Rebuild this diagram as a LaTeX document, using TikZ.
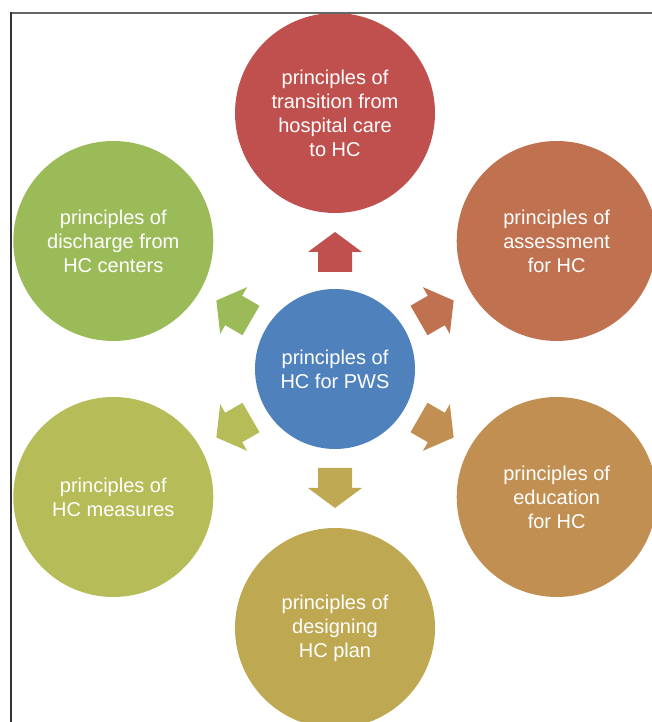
\documentclass[tikz,border=0pt]{standalone}
\usepackage{fontspec}
\setmainfont{Liberation Sans}
\usetikzlibrary{calc}
\definecolor{hubblue}{HTML}{4F81BD}
\definecolor{cA}{HTML}{C0504D}
\definecolor{cB}{HTML}{C0714F}
\definecolor{cC}{HTML}{C08F51}
\definecolor{cD}{HTML}{BFA852}
\definecolor{cE}{HTML}{B6BC57}
\definecolor{cF}{HTML}{9BBB59}
\begin{document}
\begin{tikzpicture}[x=1pt,y=1pt,
  bubble/.style={circle, inner sep=0pt, minimum size=200pt, text=white, align=center,
    font=\fontsize{20}{24}\selectfont},
  hub/.style={bubble, minimum size=160pt, fill=hubblue},
  frameline/.style={line width=1.3pt}]
\useasboundingbox (0,0) rectangle (652,722);
\clip (0,0) rectangle (652,722);
\node[hub] (c) at (335,353) {principles of\\HC for PWS};
\node[bubble, fill=cA] (n1) at ($(c)+(90:256)$) {principles of\\transition from\\hospital care\\to HC};
\node[bubble, fill=cB] (n2) at ($(c)+(30:256)$) {principles of\\assessment\\for HC};
\node[bubble, fill=cC] (n3) at ($(c)+(-30:256)$) {principles of\\education\\for HC};
\node[bubble, fill=cD] (n4) at ($(c)+(-90:259)$) {principles of\\designing\\HC plan};
\node[bubble, fill=cE] (n5) at ($(c)+(-150:256)$) {principles of\\HC measures};
\node[bubble, fill=cF] (n6) at ($(c)+(150:256)$) {principles of\\discharge from\\HC centers};
\foreach \ang/\col/\d in {90/cA/0,30/cB/0,-30/cC/0,-90/cD/2,-150/cE/0,150/cF/0}
  \fill[\col, shift={(c.center)}, rotate=\ang, xshift=\d pt]
    (97,-17) -- (117,-17) -- (117,-27) -- (137,0) -- (117,27) -- (117,17) -- (97,17) -- cycle;
\draw[frameline, draw=black!60] (11,709) -- (652,709);
\draw[frameline, draw=black!80] (11,0) -- (11,709.6);
\end{tikzpicture}
\end{document}
